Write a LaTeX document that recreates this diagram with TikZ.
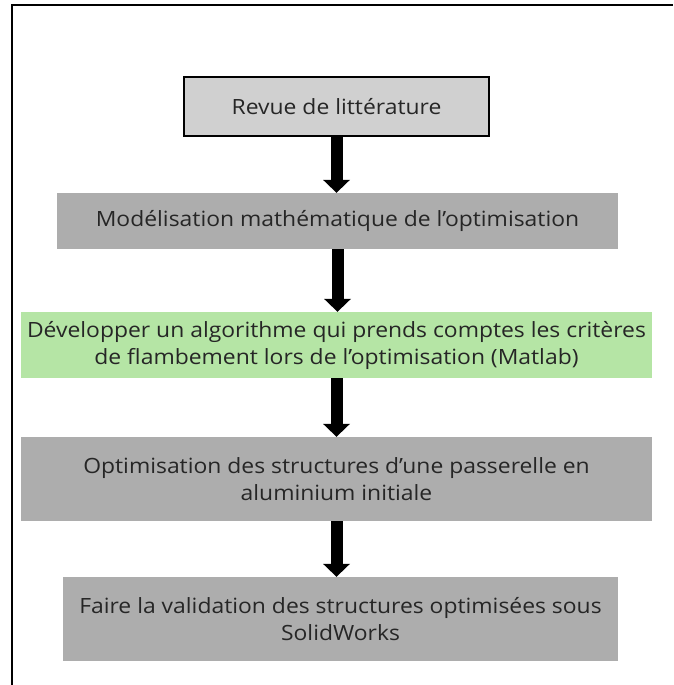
\documentclass[tikz,border=0pt]{standalone}
\usepackage{fontspec}
\setmainfont[FakeStretch=1.09]{Open Sans}
\usetikzlibrary{arrows.meta}

\definecolor{grigioC}{HTML}{D0D0D0}
\definecolor{grigio}{HTML}{ADADAD}
\definecolor{verde}{HTML}{B5E5A5}
\definecolor{testo}{HTML}{262626}

\tikzset{
  fase/.style={fill=grigio, text=testo, align=center, inner sep=0pt,
               font=\fontsize{21}{27}\selectfont},
  freccia/.style={line width=12pt, -{Triangle[width=27pt,length=13pt,line width=0pt]}},
}

\begin{document}
\begin{tikzpicture}[x=1pt,y=-1pt]
        \useasboundingbox (0,0) rectangle (673,685);
        %cornice
        \draw[line width=2pt](11.5,685)|-(673,5.5);
        %blocchi
        \node[fase,fill=grigioC,draw=black,line width=1.5pt,minimum width=305pt,minimum height=59pt]
             (revue) at (336.5,106.5) {Revue de littérature};
        \node[fase,minimum width=561pt,minimum height=56pt]
             (modele) at (337.5,221) {Modélisation mathématique de l’optimisation};
        \node[fase,fill=verde,minimum width=631pt,minimum height=66pt]
             (algo) at (336.5,345) {Développer un algorithme qui prends comptes les critères\\de flambement lors de l’optimisation (Matlab)};
        \node[fase,minimum width=631pt,minimum height=84pt]
             (optim) at (336.5,479) {Optimisation des structures d’une passerelle en\\aluminium initiale};
        \node[fase,minimum width=555pt,minimum height=84pt]
             (valid) at (340.5,619) {Faire la validation des structures optimisées sous\\SolidWorks};
        %frecce
        \draw[freccia](revue.south)--(revue.south|-modele.north);
        \draw[freccia](modele.south)--(modele.south|-algo.north);
        \draw[freccia](algo.south)--(algo.south|-optim.north);
        \draw[freccia](optim.south)--(optim.south|-valid.north);
\end{tikzpicture}
\end{document}
